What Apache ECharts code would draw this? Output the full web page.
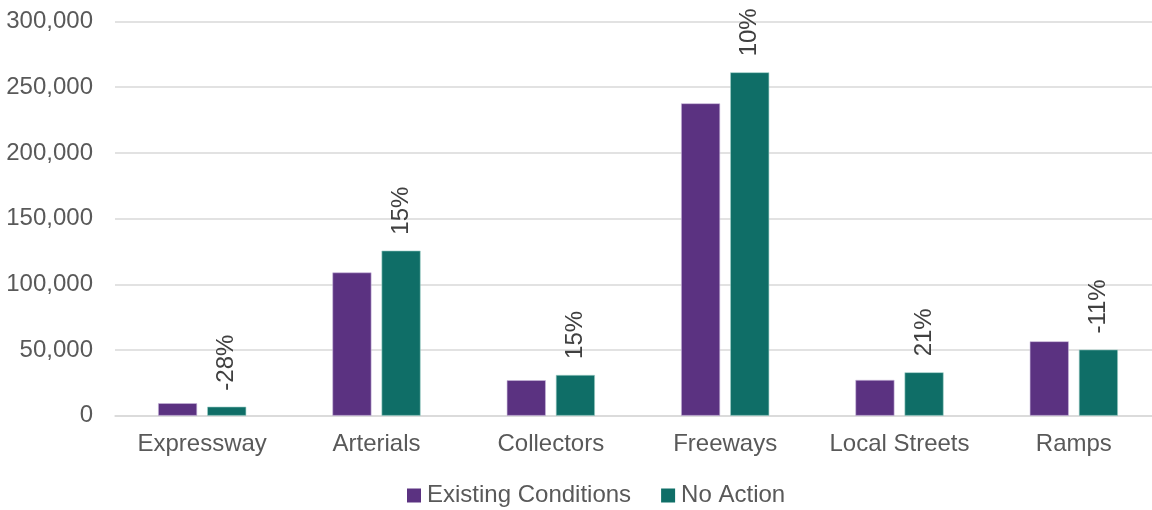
<!DOCTYPE html>
<html>
<head>
<meta charset="utf-8">
<script src="https://cdn.jsdelivr.net/npm/echarts@6/dist/echarts.min.js"></script>
<style>
  html, body { margin: 0; padding: 0; background: #ffffff; }
  #chart { width: 1152px; height: 510px; }
</style>
</head>
<body>
<div id="chart"></div>
<script>
// Roadway categories and daily volumes for each scenario
const categories = ['Expressway', 'Arterials', 'Collectors', 'Freeways', 'Local Streets', 'Ramps'];
const existingConditions = [9500, 109000, 27000, 237700, 27200, 56600];
const noAction = [6850, 125600, 31000, 261300, 33000, 50300];
const yTicks = { min: 0, max: 300000, interval: 50000 };

// Percent change from existing conditions to no action
const pctChange = noAction.map((v, i) => Math.round((v / existingConditions[i] - 1) * 100) + '%');

const FONT = '"Liberation Sans", Arial, sans-serif';
const chart = echarts.init(document.getElementById('chart'), null, { renderer: 'canvas' });

chart.setOption({
  animation: false,
  textStyle: { fontFamily: FONT },
  grid: {
    left: 115, top: 21.5, width: 1046, height: 394.2,
    containLabel: false, outerBoundsMode: 'none'
  },
  legend: {
    bottom: -2.5,
    left: 402,
    itemWidth: 14,
    itemHeight: 14,
    itemGap: 30,
    icon: 'rect',
    itemStyle: { borderWidth: 0 },
    textStyle: { fontFamily: FONT, fontSize: 24, color: '#595959', padding: [0, 0, 0, 1] },
    data: ['Existing Conditions', 'No Action']
  },
  xAxis: {
    type: 'category',
    data: categories,
    axisLine: { show: true, lineStyle: { color: '#d9d9d9', width: 1.5 } },
    axisTick: { show: false },
    axisLabel: { interval: 0, fontFamily: FONT, fontSize: 24, color: '#595959', margin: 17 }
  },
  yAxis: {
    type: 'value',
    min: yTicks.min,
    max: yTicks.max,
    interval: yTicks.interval,
    axisLine: { show: false },
    axisTick: { show: false },
    splitLine: { lineStyle: { color: '#d9d9d9', width: 1.5 } },
    axisLabel: {
      fontFamily: FONT, fontSize: 24, color: '#595959', margin: 22,
      formatter: v => v.toLocaleString('en-US')
    }
  },
  series: [
    {
      name: 'Existing Conditions',
      type: 'bar',
      data: existingConditions,
      barWidth: 39,
      barGap: '26%',
      itemStyle: { color: '#5b3281', borderColor: '#c9b8dc', borderWidth: 0.6 }
    },
    {
      name: 'No Action',
      type: 'bar',
      data: noAction,
      barWidth: 39,
      barGap: '26%',
      itemStyle: { color: '#0f6e67', borderColor: '#9fd0c8', borderWidth: 0.6 },
      label: {
        show: true,
        position: 'top',
        distance: 16,
        rotate: 90,
        align: 'left',
        verticalAlign: 'middle',
        fontFamily: FONT,
        fontSize: 24,
        color: '#404040',
        formatter: p => pctChange[p.dataIndex]
      }
    }
  ]
});
</script>
</body>
</html>
